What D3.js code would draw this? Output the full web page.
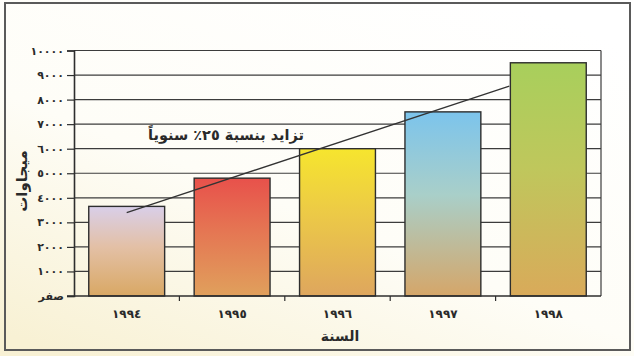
<!DOCTYPE html>
<html lang="ar">
<head>
<meta charset="utf-8">
<script src="https://cdn.jsdelivr.net/npm/d3@7"></script>
<style>
  html, body { margin: 0; padding: 0; background: #ffffff; }
  svg { display: block; }
  text { font-family: "DejaVu Sans", sans-serif; fill: #2a2a2a; }
</style>
</head>
<body>
<svg id="chart" width="634" height="356"></svg>
<script>
// Years (Arabic-Indic numerals) and installed capacity in megawatts
const years = ["١٩٩٤", "١٩٩٥", "١٩٩٦", "١٩٩٧", "١٩٩٨"];
const megawatts = [3650, 4800, 6000, 7500, 9500];

// Y axis ticks and their labels
const yTickValues = [0, 1000, 2000, 3000, 4000, 5000, 6000, 7000, 8000, 9000, 10000];
const yTickLabels = ["صفر", "١٠٠٠", "٢٠٠٠", "٣٠٠٠", "٤٠٠٠", "٥٠٠٠", "٦٠٠٠", "٧٠٠٠", "٨٠٠٠", "٩٠٠٠", "١٠٠٠٠"];

// 25% yearly growth trend: position in year steps from 1994, value in MW
const trendPos = [0, 3.63];
const trendValues = [3400, 8550];

// Gradient stops for each bar, top to bottom
const barTopColors = ["#d9cfe9", "#e8514b", "#f6e52e", "#7cc4ec", "#a8cf5c"];
const barMidColors = ["#e3c0a6", "#e57653", "#ecc947", "#a9cfc9", "#bfc75c"];
const barBottomColors = ["#d9a864", "#e0a05c", "#dea65e", "#d5a669", "#d9aa5a"];

const yLabel = "ميجاوات";
const xLabel = "السنة";
const trendLabel = "تزايد بنسبة ٢٥٪ سنوياً";

const svg = d3.select("#chart");
const W = 634, H = 356;
const plot = { left: 74, right: 601, top: 50.5, bottom: 296 };

const defs = svg.append("defs");

// soft paper tone, warmer towards the lower left
const bg = defs.append("linearGradient").attr("id", "paper")
  .attr("x1", "0.8").attr("y1", "0").attr("x2", "0.1").attr("y2", "1");
bg.append("stop").attr("offset", "0").attr("stop-color", "#ffffff");
bg.append("stop").attr("offset", "0.55").attr("stop-color", "#fefdf7");
bg.append("stop").attr("offset", "1").attr("stop-color", "#f8f1d4");

svg.append("rect").attr("x", 0).attr("y", 0).attr("width", W).attr("height", H)
  .attr("fill", "url(#paper)");

// outer frame
svg.append("rect").attr("x", 5).attr("y", 3).attr("width", 625).attr("height", 347)
  .attr("fill", "none").attr("stroke", "#5a5a5a").attr("stroke-width", 2);

const x = d3.scaleBand().domain(years)
  .range([plot.left, plot.right]).paddingInner(0.28).paddingOuter(0.14);
const y = d3.scaleLinear().domain([0, 10000]).range([plot.bottom, plot.top]);
const xPos = d3.scaleLinear().domain([0, years.length - 1])
  .range([x(years[0]) + x.bandwidth() / 2, x(years[years.length - 1]) + x.bandwidth() / 2]);

// horizontal gridlines
svg.append("g").selectAll("line").data(yTickValues.slice(1)).join("line")
  .attr("x1", plot.left).attr("x2", plot.right)
  .attr("y1", d => y(d)).attr("y2", d => y(d))
  .attr("stroke", "#3c3c3c").attr("stroke-width", 1.2);

// right border of plot
svg.append("line").attr("x1", plot.right).attr("x2", plot.right)
  .attr("y1", y(10000)).attr("y2", y(0))
  .attr("stroke", "#3c3c3c").attr("stroke-width", 1.2);

// bar gradients
years.forEach((yr, i) => {
  const g = defs.append("linearGradient").attr("id", "bar" + i)
    .attr("x1", 0).attr("y1", 0).attr("x2", 0).attr("y2", 1);
  g.append("stop").attr("offset", "0").attr("stop-color", barTopColors[i]);
  g.append("stop").attr("offset", "0.45").attr("stop-color", barMidColors[i]);
  g.append("stop").attr("offset", "1").attr("stop-color", barBottomColors[i]);
});

svg.append("g").selectAll("rect").data(megawatts).join("rect")
  .attr("x", (d, i) => x(years[i]))
  .attr("y", d => y(d))
  .attr("width", x.bandwidth())
  .attr("height", d => y(0) - y(d))
  .attr("fill", (d, i) => `url(#bar${i})`)
  .attr("stroke", "#2e2e2e").attr("stroke-width", 1.4);

// trend line
svg.append("path")
  .datum(trendPos.map((p, i) => [p, trendValues[i]]))
  .attr("d", d3.line().x(d => xPos(d[0])).y(d => y(d[1])))
  .attr("fill", "none").attr("stroke", "#333").attr("stroke-width", 1.3);

svg.append("text").attr("x", 304).attr("y", 140)
  .attr("text-anchor", "start").attr("direction", "rtl")
  .attr("font-size", 14.5).attr("font-weight", "bold")
  .text(trendLabel);

// y axis
const yAxis = d3.axisLeft(y).tickValues(yTickValues).tickSize(7).tickPadding(3)
  .tickFormat((d, i) => yTickLabels[i]);
const gy = svg.append("g").attr("transform", `translate(${plot.left},0)`).call(yAxis);
gy.select(".domain").attr("stroke", "#2e2e2e").attr("stroke-width", 1.6);
gy.selectAll(".tick line").attr("stroke", "#2e2e2e").attr("stroke-width", 1.2);
gy.selectAll(".tick text").attr("font-family", "DejaVu Sans").attr("font-size", 11)
  .attr("font-weight", "bold").attr("fill", "#2a2a2a");

// x axis baseline with ticks between categories
svg.append("line").attr("x1", plot.left - 7).attr("x2", plot.right)
  .attr("y1", y(0)).attr("y2", y(0)).attr("stroke", "#2e2e2e").attr("stroke-width", 1.6);
svg.append("g").selectAll("line").data(years.slice(1)).join("line")
  .attr("x1", d => x(d) - x.step() * x.paddingInner() / 2)
  .attr("x2", d => x(d) - x.step() * x.paddingInner() / 2)
  .attr("y1", y(0)).attr("y2", y(0) + 5)
  .attr("stroke", "#2e2e2e").attr("stroke-width", 1.2);

svg.append("g").selectAll("text").data(years).join("text")
  .attr("x", d => x(d) + x.bandwidth() / 2).attr("y", 318)
  .attr("text-anchor", "middle").attr("font-size", 12).attr("font-weight", "bold")
  .text(d => d);

svg.append("text").attr("x", 340).attr("y", 341)
  .attr("text-anchor", "middle").attr("font-size", 14).attr("font-weight", "bold")
  .text(xLabel);

svg.append("text").attr("transform", "translate(27,181) rotate(-90)")
  .attr("text-anchor", "middle").attr("font-size", 15).attr("font-weight", "bold")
  .text(yLabel);
</script>
</body>
</html>
